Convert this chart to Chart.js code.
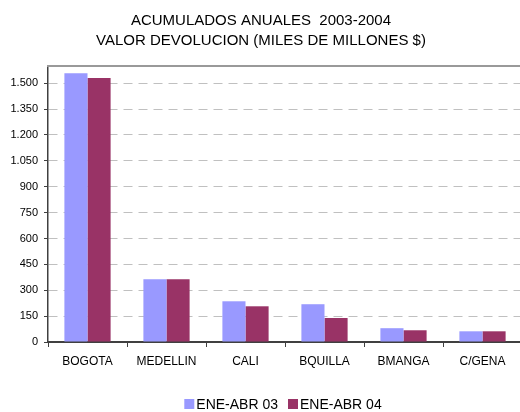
<!doctype html>
<html lang="es">
  <head>
    <meta charset="utf-8">
    <title>Acumulados anuales 2003-2004</title>
    <style>
      * {
        margin: 0;
        padding: 0;
      }
      html, body {
        width: 520px;
        height: 412px;
        overflow: hidden;
        background: #ffffff;
      }
      #chart {
        display: block;
      }
    </style>
  </head>
  <body>
    <canvas id="chart" width="530" height="412"></canvas>
    <script src="https://cdn.jsdelivr.net/npm/chart.js/dist/chart.umd.min.js"></script>
    <script>
    // data
    const ciudades = ['BOGOTA', 'MEDELLIN', 'CALI', 'BQUILLA', 'BMANGA', 'C/GENA'];
    const eneAbr03 = [1558, 364, 236, 219, 80, 62];
    const eneAbr04 = [1531, 364, 207, 139, 68, 62];
    const yTicks = [0, 150, 300, 450, 600, 750, 900, 1050, 1200, 1350, 1500];

    const FONT = "'Liberation Sans', Arial, sans-serif";

    // puntos de miles como en el original
    const fmt = v => String(v).replace(/\B(?=(\d{3})+(?!\d))/g, '.');

    // borde superior del area y leyenda abajo
    const frame = {
      id: 'frame',
      afterDraw(chart) {
        const { ctx, chartArea: { left, right, top } } = chart;
        ctx.save();
        ctx.strokeStyle = '#999999';
        ctx.lineWidth = 2;
        ctx.beginPath();
        ctx.moveTo(left - 1, top);
        ctx.lineTo(right, top);
        ctx.stroke();

        // leyenda
        ctx.font = '14px ' + FONT;
        ctx.textBaseline = 'alphabetic';
        const sets = chart.data.datasets;
        const box = 10, gap = 2, between = 10;
        let total = 0;
        sets.forEach((ds, i) => {
          total += box + gap + ctx.measureText(ds.label).width;
          if (i < sets.length - 1) total += between;
        });
        let x = 283 - total / 2;
        const y = 409;
        sets.forEach(ds => {
          ctx.fillStyle = ds.backgroundColor;
          ctx.fillRect(x, y - 10, box, box);
          x += box + gap;
          ctx.fillStyle = '#000000';
          ctx.fillText(ds.label, x, y);
          x += ctx.measureText(ds.label).width + between;
        });
        ctx.restore();
      }
    };

    const config = {
      type: 'bar',
      data: {
        labels: ciudades,
        datasets: [
          { label: 'ENE-ABR 03', data: eneAbr03, backgroundColor: '#9999ff' },
          { label: 'ENE-ABR 04', data: eneAbr04, backgroundColor: '#993366' }
        ]
      },
      options: {
        responsive: false,
        animation: false,
        layout: { padding: { left: 0, right: 8, top: 0, bottom: 0 } },
        datasets: {
          bar: { barPercentage: 1, categoryPercentage: 0.585 }
        },
        scales: {
          x: {
            grid: {
              offset: true,
              drawOnChartArea: false,
              tickLength: 5,
              tickColor: '#404040'
            },
            border: { color: '#404040', width: 2 },
            ticks: {
              color: '#000000',
              padding: 7,
              font: { family: FONT, size: 12 }
            },
            afterFit(scale) { scale.height = 70; }
          },
          y: {
            min: 0,
            max: 1600,
            afterBuildTicks(scale) {
              scale.ticks = yTicks.map(v => ({ value: v }));
            },
            grid: {
              color: ctx => ctx.tick && ctx.tick.value === 0 ? 'rgba(0,0,0,0)' : '#c0c0c0',
              lineWidth: 1,
              tickLength: 4,
              tickColor: '#404040'
            },
            border: { color: '#404040', width: 1.5, dash: [9, 6] },
            ticks: {
              color: '#000000',
              padding: 6,
              font: { family: FONT, size: 11 },
              callback: v => fmt(v)
            },
            afterFit(scale) { scale.width = 48; }
          }
        },
        plugins: {
          legend: { display: false },
          tooltip: { enabled: false },
          title: {
            display: true,
            text: ['ACUMULADOS ANUALES  2003-2004', 'VALOR DEVOLUCION (MILES DE MILLONES $)'],
            color: '#000000',
            font: { family: FONT, size: 15, weight: 'normal', lineHeight: 1.333 },
            padding: { top: 11, bottom: 15 }
          }
        }
      },
      plugins: [frame]
    };

    new Chart(document.getElementById('chart'), config);
    </script>
  </body>
</html>
